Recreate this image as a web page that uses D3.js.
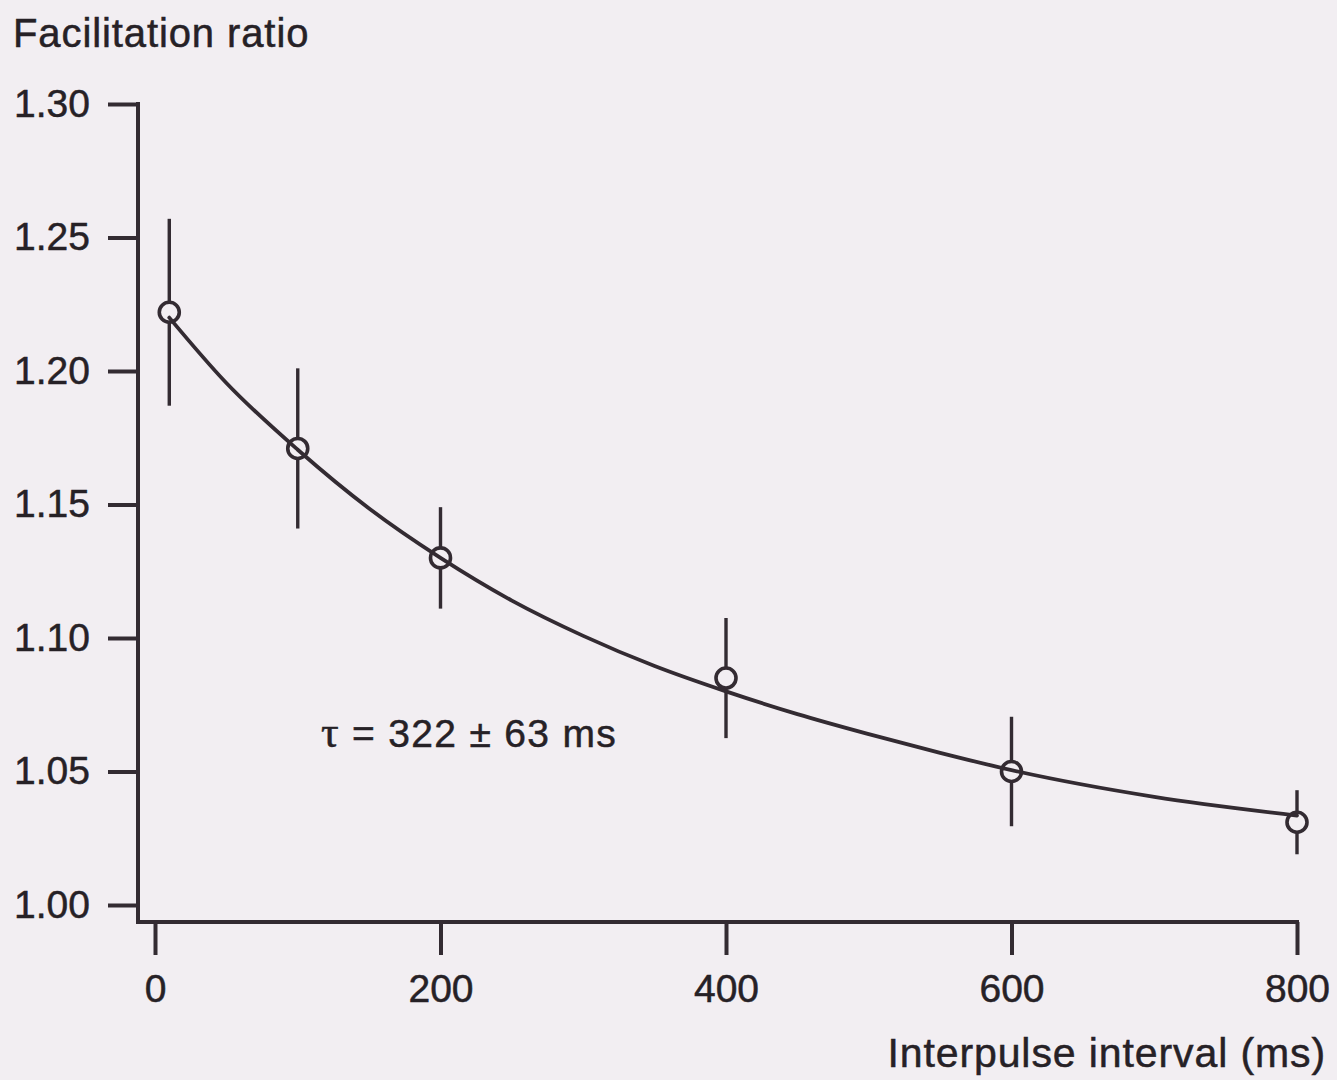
<!DOCTYPE html>
<html>
<head>
<meta charset="utf-8">
<script src="https://cdn.jsdelivr.net/npm/d3@7/dist/d3.min.js"></script>
<style>
  html, body { margin: 0; padding: 0; background: #f2eef2; }
  svg { display: block; }
  text { font-family: "Liberation Sans", Arial, Helvetica, sans-serif; fill: #262126;
         stroke: #262126; stroke-width: 0.5px; }
</style>
</head>
<body>
<svg id="chart" width="1337" height="1080"></svg>
<script>
// ---- Data ----
const intervals = [10, 100, 200, 400, 600, 800];                 // interpulse interval (ms)
const ratios    = [1.222, 1.171, 1.130, 1.085, 1.050, 1.031];    // facilitation ratio
const errors    = [0.035, 0.030, 0.019, 0.0225, 0.0205, 0.012];  // error bar half-lengths

// fitted exponential curve
const fitX = [10, 50, 100, 150, 200, 250, 300, 350, 400, 450, 500, 550, 600, 700, 800];
const fitY = [1.220, 1.1955, 1.1705, 1.1485, 1.130, 1.114, 1.1008, 1.0895, 1.080,
              1.0715, 1.064, 1.057, 1.0505, 1.0405, 1.0335];

const xTicks = [0, 200, 400, 600, 800];
const yTicks = [1.00, 1.05, 1.10, 1.15, 1.20, 1.25, 1.30];

const yTitle = "Facilitation ratio";
const xTitle = "Interpulse interval (ms)";
const annotation = ["\u03C4", " = 322 \u00B1 63 ms"];

// ---- Layout ----
const ink = "#332b32";
const bg = "#f2eef2";
const svg = d3.select("#chart");
const x = d3.scaleLinear().domain([0, 800]).range([155, 1297]);
const y = d3.scaleLinear().domain([1.0, 1.3]).range([905, 104]);
const offset = 17; // axes are offset from the data origin
const axisX = x(0) - offset;     // y-axis line position
const axisY = y(1.0) + offset;   // x-axis line position

// Y axis
const yAxis = d3.axisLeft(y).tickValues(yTicks).tickFormat(d3.format(".2f"))
  .tickSize(30).tickPadding(18);
const gy = svg.append("g").attr("transform", `translate(${axisX},0)`).call(yAxis);
gy.select(".domain").remove();
gy.selectAll(".tick line").attr("stroke", ink).attr("stroke-width", 4);
gy.selectAll(".tick text").attr("font-size", 39).attr("fill", "#262126")
  .attr("font-family", "Liberation Sans, Arial, sans-serif");

// X axis
const xAxis = d3.axisBottom(x).tickValues(xTicks).tickFormat(d3.format("d"))
  .tickSize(33).tickPadding(19);
const gx = svg.append("g").attr("transform", `translate(0,${axisY})`).call(xAxis);
gx.select(".domain").remove();
gx.selectAll(".tick line").attr("stroke", ink).attr("stroke-width", 4);
gx.selectAll(".tick text").attr("font-size", 39).attr("fill", "#262126")
  .attr("font-family", "Liberation Sans, Arial, sans-serif");

// L-shaped axis frame
svg.append("path")
  .attr("d", `M${axisX},${y(1.3) - 2}V${axisY}H${x(800) + 2}`)
  .attr("fill", "none").attr("stroke", ink).attr("stroke-width", 4)
  .attr("stroke-linejoin", "miter");

// error bars
svg.append("g").selectAll("line").data(intervals).join("line")
  .attr("x1", (d) => x(d)).attr("x2", (d) => x(d))
  .attr("y1", (d, i) => y(ratios[i] + errors[i]))
  .attr("y2", (d, i) => y(ratios[i] - errors[i]))
  .attr("stroke", ink).attr("stroke-width", 3.4);

// circles (hollow)
svg.append("g").selectAll("circle").data(intervals).join("circle")
  .attr("cx", (d) => x(d)).attr("cy", (d, i) => y(ratios[i]))
  .attr("r", 10)
  .attr("fill", bg).attr("stroke", ink).attr("stroke-width", 3.6);

// fit curve
const line = d3.line().x((d) => x(d[0])).y((d) => y(d[1])).curve(d3.curveMonotoneX);
svg.append("path")
  .datum(fitX.map((d, i) => [d, fitY[i]]))
  .attr("d", line)
  .attr("fill", "none").attr("stroke", ink).attr("stroke-width", 3.8)
  .attr("stroke-linecap", "round");

// titles
svg.append("text").attr("x", 13).attr("y", 47)
  .attr("font-size", 40).attr("letter-spacing", 0.9).text(yTitle);
svg.append("text").attr("x", 1326).attr("y", 1067).attr("text-anchor", "end")
  .attr("font-size", 41).attr("letter-spacing", 0.9).text(xTitle);

// annotation
const ann = svg.append("text").attr("x", 321).attr("y", 747).attr("font-size", 39)
  .attr("letter-spacing", 1.3);
ann.append("tspan").attr("font-family", "Liberation Serif, Times New Roman, serif")
  .attr("font-size", 44).text(annotation[0]);
ann.append("tspan").text(annotation[1]);
</script>
</body>
</html>
